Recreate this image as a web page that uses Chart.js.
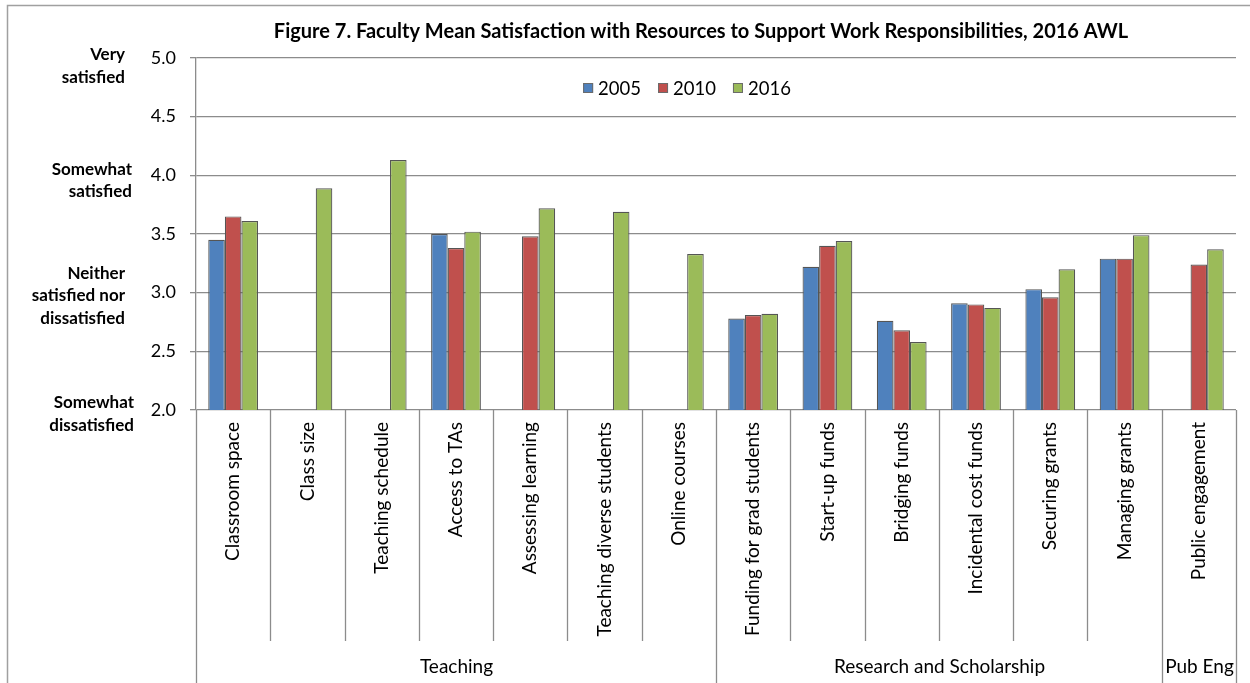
<!DOCTYPE html>
<html>
<head>
<meta charset="utf-8">
<script src="https://cdn.jsdelivr.net/npm/chart.js@4.4.1/dist/chart.umd.min.js"></script>
<style>
  html, body { margin: 0; padding: 0; background: #fff; }
  #wrap { width: 1250px; height: 683px; }
</style>
</head>
<body>
<div id="wrap"><canvas id="chart" width="1250" height="683"></canvas></div>
<script>
const categories = [
  'Classroom space', 'Class size', 'Teaching schedule', 'Access to TAs',
  'Assessing learning', 'Teaching diverse students', 'Online courses',
  'Funding for grad students', 'Start-up funds', 'Bridging funds',
  'Incidental cost funds', 'Securing grants', 'Managing grants', 'Public engagement'
];
const groupNames = ['Teaching', 'Research and Scholarship', 'Pub Eng'];
const groupSizes = [7, 6, 1];

const seriesNames = ['2005', '2010', '2016'];
const seriesColors = ['#4F81BD', '#C0504D', '#9BBB59'];
const values2005 = [3.45, null, null, 3.50, null, null, null, 2.78, 3.22, 2.76, 2.91, 3.03, 3.29, null];
const values2010 = [3.65, null, null, 3.38, 3.48, null, null, 2.81, 3.40, 2.68, 2.90, 2.96, 3.29, 3.24];
const values2016 = [3.61, 3.89, 4.13, 3.52, 3.72, 3.69, 3.33, 2.82, 3.44, 2.58, 2.87, 3.20, 3.49, 3.37];

const yMin = 2.0;
const yMax = 5.0;
const yStep = 0.5;

// verbal anchors of the satisfaction scale, next to the numeric ticks
const anchorValues = [5, 4, 3, 2];
const anchorLines = [
  ['Very', 'satisfied'],
  ['Somewhat', 'satisfied'],
  ['Neither', 'satisfied nor', 'dissatisfied'],
  ['Somewhat', 'dissatisfied']
];

const titleText = 'Figure 7. Faculty Mean Satisfaction with Resources to Support Work Responsibilities, 2016 AWL';

const FONT = "Lato, 'Open Sans', sans-serif";
const GRID = '#8c8c8c';

Chart.defaults.font.family = FONT;
Chart.defaults.color = '#000';

const decorations = {
  id: 'decorations',
  beforeDraw(chart) {
    const ctx = chart.ctx;
    ctx.save();
    ctx.fillStyle = '#fff';
    ctx.fillRect(0, 0, chart.width, chart.height);
    // outer chart frame (runs off the right and bottom edges)
    ctx.strokeStyle = '#a0a0a0';
    ctx.lineWidth = 1.5;
    ctx.strokeRect(7.5, 5.5, chart.width + 20, chart.height + 20);
    ctx.restore();
  },
  afterDraw(chart) {
    const ctx = chart.ctx;
    const y = chart.scales.y;
    const area = chart.chartArea;
    ctx.save();

    // title
    ctx.font = 'bold 20px ' + FONT;
    ctx.textAlign = 'center';
    ctx.textBaseline = 'middle';
    ctx.fillStyle = '#000';
    ctx.fillText(titleText, 701, 32);

    // legend inside the plot
    ctx.font = '18.5px ' + FONT;
    const box = 10, gapBox = 5, gapItem = 17;
    const widths = seriesNames.map(n => ctx.measureText(n).width);
    const total = widths.reduce((a, w) => a + box + gapBox + w, 0) + gapItem * (seriesNames.length - 1);
    let lx = 687 - total / 2;
    const ly = 88;
    ctx.textAlign = 'left';
    chart.data.datasets.forEach((ds, i) => {
      ctx.fillStyle = ds.backgroundColor;
      ctx.fillRect(lx, ly - box / 2, box, box);
      ctx.strokeStyle = '#6b6b6b';
      ctx.lineWidth = 1;
      ctx.strokeRect(lx + 0.5, ly - box / 2 + 0.5, box - 1, box - 1);
      ctx.fillStyle = '#000';
      ctx.fillText(ds.label, lx + box + gapBox, ly + 1);
      lx += box + gapBox + widths[i] + gapItem;
    });

    // verbal scale anchors
    ctx.font = 'bold 17px ' + FONT;
    ctx.textAlign = 'right';
    const anchorRight = [125, 132, 125, 134];
    const anchorShift = [8, 5, 3, 4];
    const lineH = 22.5;
    anchorValues.forEach((v, i) => {
      const lines = anchorLines[i];
      const cy = y.getPixelForValue(v) + anchorShift[i];
      lines.forEach((t, j) => {
        ctx.fillText(t, anchorRight[i], cy + (j - (lines.length - 1) / 2) * lineH);
      });
    });

    // category separators and group brackets below the axis
    const n = categories.length;
    const step = (area.right - area.left) / n;
    const edge = i => Math.round(area.left + i * step) + 0.5;
    const catBottom = 641;
    const groupStarts = [0];
    groupSizes.forEach(s => groupStarts.push(groupStarts[groupStarts.length - 1] + s));
    ctx.strokeStyle = GRID;
    ctx.lineWidth = 1.3;
    for (let i = 0; i <= n; i++) {
      const isGroupEdge = groupStarts.includes(i);
      ctx.beginPath();
      ctx.moveTo(edge(i), area.bottom);
      ctx.lineTo(edge(i), isGroupEdge ? chart.height : catBottom);
      ctx.stroke();
    }
    ctx.font = '19px ' + FONT;
    ctx.textAlign = 'center';
    ctx.fillStyle = '#000';
    groupNames.forEach((g, i) => {
      const cx = (edge(groupStarts[i]) + edge(groupStarts[i + 1])) / 2;
      ctx.fillText(g, cx, 667);
    });
    ctx.restore();
  }
};

new Chart(document.getElementById('chart'), {
  type: 'bar',
  data: {
    labels: categories,
    datasets: [values2005, values2010, values2016].map((vals, i) => ({
      label: seriesNames[i],
      data: vals,
      backgroundColor: seriesColors[i],
      borderColor: '#555555',
      borderWidth: 1.2,
      categoryPercentage: 0.67,
      barPercentage: 1.0
    }))
  },
  options: {
    responsive: false,
    animation: false,
    layout: { padding: { top: 58, right: 14, bottom: 0, left: 0 } },
    plugins: {
      legend: { display: false },
      title: { display: false },
      tooltip: { enabled: false }
    },
    scales: {
      x: {
        grid: { display: false, drawTicks: false },
        border: { display: false },
        ticks: {
          minRotation: 90,
          maxRotation: 90,
          autoSkip: false,
          padding: 12,
          font: { size: 19 },
          color: '#000'
        },
        afterFit(s) { s.height = 273; }
      },
      y: {
        min: yMin,
        max: yMax,
        grid: { color: GRID, lineWidth: 1.3, tickLength: 6, drawTicks: true },
        border: { display: true, color: GRID, width: 1.3 },
        ticks: {
          stepSize: yStep,
          padding: 14,
          font: { size: 18 },
          color: '#000',
          callback: v => v.toFixed(1)
        },
        afterFit(s) { s.width = 196; }
      }
    }
  },
  plugins: [decorations]
});
</script>
</body>
</html>
